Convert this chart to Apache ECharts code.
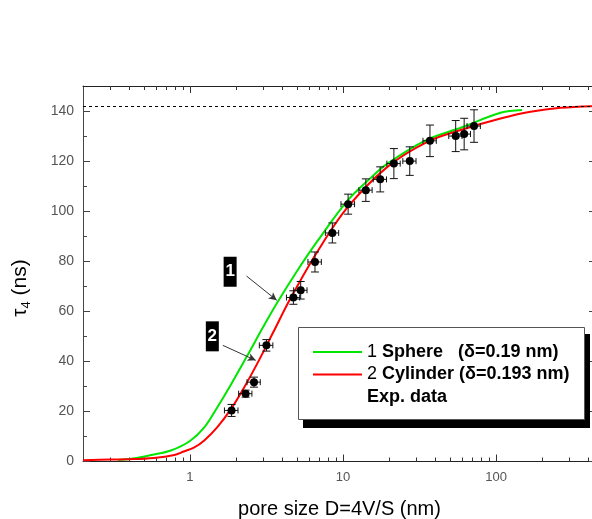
<!DOCTYPE html>
<html>
<head>
<meta charset="utf-8">
<script src="https://cdn.jsdelivr.net/npm/echarts@6/dist/echarts.min.js"></script>
<style>
  html, body { margin: 0; padding: 0; background: #fff; }
  #chart { width: 592px; height: 519px; }
</style>
</head>
<body>
<div id="chart"></div>
<script>
// Model curve 1: spherical pores (delta = 0.19 nm)
const sphereD   = [0.34, 0.45, 0.56, 0.75, 1.0, 1.24, 1.51, 1.85, 2.37, 3.0, 3.73, 5.0, 6.8, 10.7, 15, 19.5, 35, 60, 107, 148];
const sphereTau = [0.6, 1.4, 2.6, 4.4, 8.2, 13.6, 21.7, 30.7, 42.3, 53.6, 63.6, 76.0, 88.0, 104.2, 113, 119, 128.4, 133.5, 139.3, 140.4];

// Model curve 2: cylindrical pores (delta = 0.193 nm)
const cylD   = [0.2, 0.3, 0.4, 0.58, 0.79, 0.91, 1.06, 1.24, 1.51, 1.85, 2.25, 2.8, 3.5, 4.55, 6.86, 10.7, 19.5, 35.6, 58.8, 107, 168, 265, 450];
const cylTau = [0.5, 0.8, 0.9, 1.4, 2.6, 4.0, 5.5, 8.4, 13.7, 20.9, 29.4, 40.0, 51.6, 65.3, 84.2, 101.5, 117.7, 127.7, 132.4, 137, 139.7, 141.3, 142];

// Measured lifetimes with errors
const expD      = [1.87, 2.31, 2.62, 3.16, 4.74, 5.29, 6.56, 8.52, 10.8, 14.1, 17.5, 21.5, 27.3, 37.0, 54.5, 61.9, 71.8];
const expTau    = [20.4, 27.1, 31.7, 46.4, 65.5, 68.4, 79.7, 91.3, 102.8, 108.4, 112.7, 119.0, 120.0, 128.1, 130.0, 130.8, 134.0];
const expDErr   = [0.19, 0.23, 0.26, 0.32, 0.47, 0.53, 0.66, 0.85, 1.1, 1.4, 1.75, 2.15, 2.7, 3.7, 5.4, 6.2, 7.2];
const expTauErr = [2.4, 1.4, 2.0, 2.3, 2.7, 3.5, 4.0, 4.0, 4.0, 4.5, 5.0, 6.0, 5.7, 6.3, 6.2, 6.3, 6.5];

// Saturation level for large pores
const plateauTau = 142;

// Axis ticks
const xMajorTicks = [1, 10, 100];
const xMinorTicks = [0.3, 0.4, 0.5, 0.6, 0.7, 0.8, 0.9, 2, 3, 4, 5, 6, 7, 8, 9, 20, 30, 40, 50, 60, 70, 80, 90, 200, 300, 400];
const yMajorTicks = [0, 20, 40, 60, 80, 100, 120, 140];
const yMinorTicks = [10, 30, 50, 70, 90, 110, 130];
const xRange = [0.2, 450];
const yRange = [0, 150];

// Curve tags and their pointer arrows
const tagNames   = ['1', '2'];
const tagD       = [1.83, 1.40];
const tagTau     = [75.8, 50.0];
const arrowFromD   = [2.34, 1.64];
const arrowFromTau = [74.1, 46.4];
const arrowToD     = [3.69, 2.69];
const arrowToTau   = [64.4, 40.4];

const FONT = '"Liberation Sans", Arial, sans-serif';
const zip = (a, b) => a.map((v, i) => [v, b[i]]);

function xAxisDef(position, ticks, len, showLine, showLabels) {
  return {
    type: 'log', logBase: 10, position, min: xRange[0], max: xRange[1],
    gridIndex: 0,
    axisLine: { show: showLine, onZero: false, lineStyle: { color: '#222', width: 1 } },
    axisTick: { show: true, inside: true, length: len, customValues: ticks, lineStyle: { color: '#333', width: 1 } },
    axisLabel: showLabels ? { show: true, customValues: ticks, margin: 9, color: '#555', fontSize: 13, fontFamily: FONT } : { show: false },
    splitLine: { show: false }, minorTick: { show: false }
  };
}
function yAxisDef(position, ticks, len, showLine, showLabels) {
  return {
    type: 'value', position, min: yRange[0], max: yRange[1],
    gridIndex: 0,
    axisLine: { show: showLine, onZero: false, lineStyle: { color: '#444', width: 1 } },
    axisTick: { show: true, inside: true, length: len, customValues: ticks, lineStyle: { color: '#444', width: 1 } },
    axisLabel: showLabels ? { show: true, customValues: ticks, margin: 9, color: '#555', fontSize: 14, fontFamily: FONT } : { show: false },
    splitLine: { show: false }, minorTick: { show: false }
  };
}

const xMain = xAxisDef('bottom', xMajorTicks, 7, true, true);
xMain.name = 'pore size D=4V/S (nm)';
xMain.nameLocation = 'middle';
xMain.nameGap = 38;
xMain.nameTextStyle = { color: '#000', fontSize: 20, fontFamily: FONT };

const chart = echarts.init(document.getElementById('chart'), null, { renderer: 'canvas' });

chart.setOption({
  animation: false,
  backgroundColor: '#fff',
  grid: { left: 83, top: 86, width: 513, height: 375.5, outerBoundsMode: 'none', containLabel: false },
  xAxis: [
    xMain,
    xAxisDef('bottom', xMinorTicks, 4, false, false),
    xAxisDef('top', xMajorTicks, 7, true, false),
    xAxisDef('top', xMinorTicks, 4, false, false)
  ],
  yAxis: [
    yAxisDef('left', yMajorTicks, 7, true, true),
    yAxisDef('left', yMinorTicks, 4, false, false),
    yAxisDef('right', yMajorTicks, 7, true, false),
    yAxisDef('right', yMinorTicks, 4, false, false)
  ],
  graphic: [
    {
      // y-axis title with subscript
      type: 'text', x: 20, y: 288, rotation: Math.PI / 2,
      style: {
        text: '{t|τ}{s|4}{t| (ns)}',
        align: 'center', verticalAlign: 'middle',
        fill: '#000', font: '20px ' + FONT,
        rich: {
          t: { fontSize: 21, fontFamily: FONT, lineHeight: 26, fill: '#000' },
          s: { fontSize: 13, fontFamily: FONT, lineHeight: 13, verticalAlign: 'bottom', fill: '#000' }
        }
      }
    },
    {
      // legend frame: solid drop shadow, then white panel
      type: 'rect', z: 90, silent: true,
      shape: { x: 303, y: 334, width: 287, height: 94 },
      style: { fill: '#000' }
    },
    {
      type: 'rect', z: 91, silent: true,
      shape: { x: 298.5, y: 327.5, width: 286, height: 92 },
      style: { fill: '#fff', stroke: '#555', lineWidth: 1 }
    }
  ],
  legend: {
    orient: 'vertical', left: 298, top: 327, z: 100,
    padding: [16, 17, 14, 15], itemGap: 4.5,
    itemWidth: 49, itemHeight: 2,
    selectedMode: false,
    backgroundColor: 'transparent', borderWidth: 0,
    data: [
      { name: 'Sphere', icon: 'rect' },
      { name: 'Cylinder', icon: 'rect' },
      { name: 'Exp. data', icon: 'none' }
    ],
    formatter: function (name) {
      if (name === 'Sphere') return '{n|1 }{b|Sphere   (δ=0.19 nm)}';
      if (name === 'Cylinder') return '{n|2 }{b|Cylinder (δ=0.193 nm)}';
      return '{b|Exp. data}';
    },
    textStyle: {
      color: '#000', fontFamily: FONT, fontSize: 18,
      rich: {
        n: { fontSize: 18, fontFamily: FONT, fontWeight: 'normal', color: '#000' },
        b: { fontSize: 18, fontFamily: FONT, fontWeight: 'bold', color: '#000' }
      }
    }
  },
  series: [
    {
      name: 'Sphere', type: 'line', data: zip(sphereD, sphereTau),
      showSymbol: false, symbol: 'none', smooth: 0.35,
      lineStyle: { color: '#00e600', width: 2 }, itemStyle: { color: '#00e600' },
      z: 3,
      markPoint: {
        symbol: 'rect', symbolSize: [13, 30],
        itemStyle: { color: '#000' },
        label: { show: true, formatter: '{b}', color: '#fff', fontWeight: 'bold', fontSize: 17, fontFamily: FONT },
        data: tagNames.map((n, i) => ({ name: n, coord: [tagD[i], tagTau[i]] }))
      },
      markLine: {
        silent: true, symbol: ['none', 'arrow'], symbolSize: [6, 8],
        label: { show: false },
        lineStyle: { color: '#333', width: 1, type: 'solid' },
        itemStyle: { color: '#111' },
        data: arrowFromD.map((d, i) => [
          { coord: [d, arrowFromTau[i]] },
          { coord: [arrowToD[i], arrowToTau[i]] }
        ])
      }
    },
    {
      name: 'Cylinder', type: 'line', data: zip(cylD, cylTau),
      showSymbol: false, symbol: 'none', smooth: 0.35,
      lineStyle: { color: '#ff0000', width: 2 }, itemStyle: { color: '#ff0000' },
      z: 3,
      markLine: {
        silent: true, symbol: 'none',
        label: { show: false },
        lineStyle: { color: '#000', width: 1, type: [3, 3] },
        data: [{ yAxis: plateauTau }]
      }
    },
    {
      name: 'Exp. data', type: 'custom', z: 4,
      data: expD.map((d, i) => [d, expTau[i], expDErr[i], expTauErr[i]]),
      encode: { x: 0, y: 1 },
      renderItem: function (params, api) {
        const d = api.value(0), t = api.value(1), de = api.value(2), te = api.value(3);
        const c = api.coord([d, t]);
        const top = api.coord([d, t + te])[1];
        const bot = api.coord([d, t - te])[1];
        const left = api.coord([d - de, t])[0];
        const right = api.coord([d + de, t])[0];
        const cap = 4;
        const st = { stroke: '#111', lineWidth: 1, fill: null };
        return {
          type: 'group',
          children: [
            { type: 'line', shape: { x1: c[0], y1: top, x2: c[0], y2: bot }, style: st },
            { type: 'line', shape: { x1: c[0] - cap, y1: top, x2: c[0] + cap, y2: top }, style: st },
            { type: 'line', shape: { x1: c[0] - cap, y1: bot, x2: c[0] + cap, y2: bot }, style: st },
            { type: 'line', shape: { x1: left, y1: c[1], x2: right, y2: c[1] }, style: st },
            { type: 'line', shape: { x1: left, y1: c[1] - 3, x2: left, y2: c[1] + 3 }, style: st },
            { type: 'line', shape: { x1: right, y1: c[1] - 3, x2: right, y2: c[1] + 3 }, style: st },
            { type: 'circle', shape: { cx: c[0], cy: c[1], r: 4 }, style: { fill: '#000' } }
          ]
        };
      }
    }
  ]
});
</script>
</body>
</html>
